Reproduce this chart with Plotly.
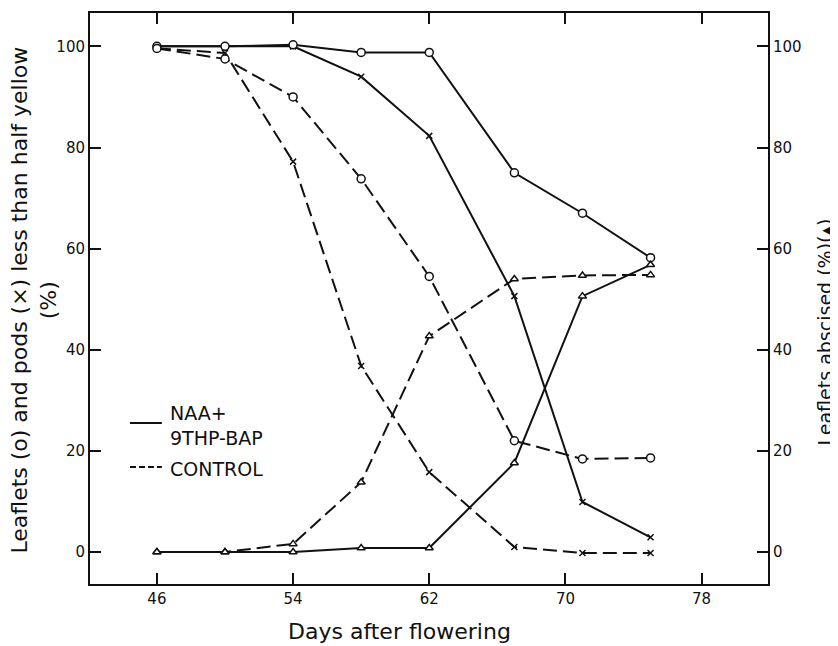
import plotly.graph_objects as go

days = [46, 50, 54, 58, 62, 67, 71, 75]
treated_leaflets = [100, 100, 100.3, 98.8, 98.8, 75, 67, 58.2]
treated_pods = [100, 100, 100, 94, 82.3, 50.6, 9.9, 2.9]
treated_abscised = [0, 0, 0, 0.8, 0.8, 17.6, 50.6, 56.8]
control_leaflets = [99.6, 97.5, 90, 73.8, 54.5, 22, 18.4, 18.6]
control_pods = [99.6, 98.7, 77.2, 36.8, 15.8, 1.0, -0.2, -0.2]
control_abscised = [0, 0, 1.6, 13.8, 42.7, 54, 54.7, 54.8]

x_ticks = [46, 54, 62, 70, 78]
y_ticks = [0, 20, 40, 60, 80, 100]

FONT = "DejaVu Sans"
BLACK = "#111111"
DASH = "14px,6px"

fig = go.Figure()

def add(y, symbol, dash, size, axis="y"):
    fig.add_trace(go.Scatter(
        x=days, y=y, mode="lines+markers", yaxis=axis,
        line=dict(color=BLACK, width=2, dash=dash),
        marker=dict(symbol=symbol, size=size,
                    color="white" if symbol in ("circle", "triangle-up") else BLACK,
                    line=dict(color=BLACK, width=1.5)),
        showlegend=False, cliponaxis=False,
    ))

add(treated_abscised, "triangle-up", "solid", 7, "y2")
add(control_abscised, "triangle-up", DASH, 7, "y2")
add(treated_pods, "x-thin", "solid", 6)
add(control_pods, "x-thin", DASH, 6)
add(treated_leaflets, "circle", "solid", 8)
add(control_leaflets, "circle", DASH, 8)

yr = [-6.33, 106.6]
common = dict(ticks="inside", ticklen=11, tickwidth=1.5, tickcolor=BLACK,
              showline=True, linecolor=BLACK, linewidth=2, showgrid=False,
              zeroline=False, automargin=False, tickfont=dict(size=15))
# page body has an 8px margin, so the figure is 8px smaller than the window
fig.update_layout(
    width=830, height=638,
    margin=dict(l=82, r=70, t=5, b=62),
    paper_bgcolor="white", plot_bgcolor="white",
    font=dict(family=FONT, size=15, color=BLACK),
    xaxis=dict(range=[42.07, 81.9], tickvals=x_ticks, mirror="ticks", **common),
    yaxis=dict(range=yr, tickvals=y_ticks, **common),
    yaxis2=dict(range=yr, tickvals=y_ticks, overlaying="y", side="right", **common),
)

# axis titles
fig.add_annotation(text="Days after flowering", xref="paper", yref="paper",
                   x=0.456, y=-0.084, xanchor="center", yanchor="middle",
                   showarrow=False, font=dict(size=22))
fig.add_annotation(text="Leaflets (o) and pods (×) less than half yellow<br>(%)",
                   xref="paper", yref="paper", x=-0.082, y=0.497,
                   xanchor="center", yanchor="middle", textangle=-90,
                   showarrow=False, font=dict(size=22))
fig.add_annotation(text="Leaflets abscised (%)(▴)", xref="paper", yref="paper",
                   x=1.0845, y=0.441, xanchor="center", yanchor="middle",
                   textangle=-90, showarrow=False, font=dict(size=19))

# legend drawn as text + line samples
fig.add_shape(type="line", xref="paper", yref="paper",
              x0=0.059, x1=0.106, y0=0.282, y1=0.282,
              line=dict(color=BLACK, width=2))
fig.add_shape(type="line", xref="paper", yref="paper",
              x0=0.059, x1=0.106, y0=0.205, y1=0.205,
              line=dict(color=BLACK, width=2, dash="6px,3px"))
fig.add_annotation(text="NAA+<br>9THP-BAP", xref="paper", yref="paper",
                   x=0.115, y=0.278, xanchor="left", yanchor="middle",
                   showarrow=False, align="left", font=dict(size=19))
fig.add_annotation(text="CONTROL", xref="paper", yref="paper",
                   x=0.115, y=0.201, xanchor="left", yanchor="middle",
                   showarrow=False, align="left", font=dict(size=19))

fig.write_html("out.html")
